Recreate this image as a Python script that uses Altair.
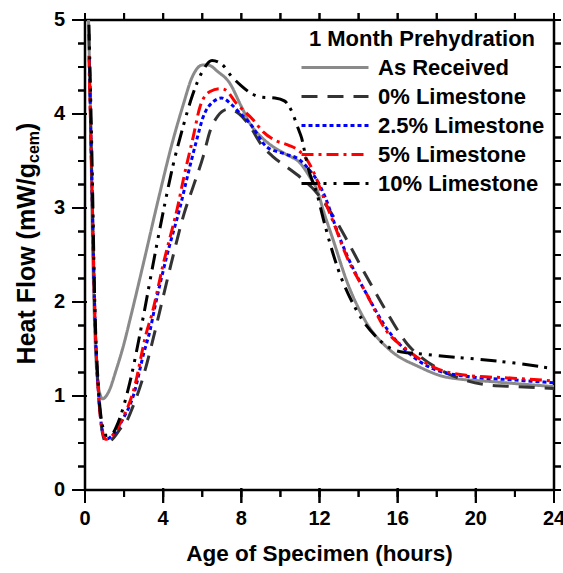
import altair as alt
import pandas as pd

FONT = "Liberation Sans"

series_names = ["As Received", "0% Limestone", "2.5% Limestone", "5% Limestone", "10% Limestone"]
series_colors = ["#8a8a8a", "#333333", "#0000ff", "#ff0000", "#000000"]
series_dashes = [[1, 0], [16, 10], [4, 3], [12, 5, 3, 5], [16, 6, 3, 7, 3, 7]]

as_received_x = [0.18, 0.28, 0.38, 0.5, 0.65, 0.9, 1.2, 1.6, 2.0, 2.3, 3.0, 3.75, 4.5, 5.0, 5.5, 6.0, 6.3,
                 6.8, 7.4, 8.0, 8.5, 9.0, 9.5, 10.3, 11.0, 11.5, 11.9, 12.2, 12.7, 13.4, 14.4, 15.6, 17.1,
                 18.5, 21.0, 24.0]
as_received_y = [5.0, 4.0, 2.7, 1.7, 1.15, 0.97, 1.04, 1.28, 1.56, 1.81, 2.42, 3.09, 3.72, 4.08, 4.4, 4.52,
                 4.52, 4.45, 4.33, 4.08, 3.88, 3.76, 3.67, 3.57, 3.48, 3.33, 3.18, 2.97, 2.66, 2.22, 1.78,
                 1.49, 1.31, 1.2, 1.15, 1.1]

ls0_x = [0.2, 0.35, 0.5, 0.7, 0.9, 1.1, 1.4, 1.8, 2.2, 2.4, 2.9, 3.5, 3.8, 4.4, 5.07, 5.54, 6.05, 6.4, 6.8,
         7.3, 7.9, 8.5, 9.0, 9.6, 10.3, 11.0, 11.6, 12.2, 12.8, 13.4, 14.2, 15.2, 16.0, 16.5, 17.1, 18.0,
         19.0, 20.5, 22.0, 24.0]
ls0_y = [4.85, 3.3, 1.9, 1.0, 0.6, 0.5, 0.54, 0.65, 0.76, 0.86, 1.15, 1.62, 1.88, 2.4, 2.94, 3.23, 3.55,
         3.82, 3.98, 4.05, 4.0, 3.85, 3.68, 3.55, 3.44, 3.33, 3.22, 3.07, 2.88, 2.66, 2.35, 1.98, 1.7, 1.55,
         1.43, 1.3, 1.2, 1.12, 1.1, 1.08]

ls25_x = [0.22, 0.35, 0.5, 0.7, 0.9, 1.05, 1.4, 1.9, 2.5, 3.0, 3.33, 3.58, 4.2, 4.89, 5.2, 5.71, 6.05, 6.56,
          6.99, 7.5, 7.93, 8.44, 9.3, 10.15, 11.0, 11.5, 11.86, 12.28, 13.0, 13.4, 14.5, 15.5, 16.5, 17.8,
          19.5, 22.0, 24.0]
ls25_y = [4.6, 3.3, 1.9, 1.0, 0.62, 0.54, 0.58, 0.74, 1.02, 1.45, 1.7, 1.95, 2.5, 3.03, 3.3, 3.72, 3.97,
          4.13, 4.17, 4.1, 4.01, 3.9, 3.65, 3.58, 3.51, 3.4, 3.3, 3.12, 2.7, 2.5, 2.05, 1.7, 1.47, 1.29,
          1.21, 1.17, 1.14]

ls5_x = [0.2, 0.35, 0.5, 0.7, 0.9, 1.05, 1.4, 1.9, 2.5, 3.15, 3.41, 4.0, 4.78, 5.03, 5.54, 5.89, 6.4, 6.9,
         7.16, 7.76, 8.6, 9.12, 9.72, 10.4, 11.0, 11.43, 11.77, 12.1, 12.8, 13.4, 14.4, 15.4, 16.5, 17.8,
         19.5, 21.9, 24.0]
ls5_y = [4.62, 3.3, 1.9, 1.0, 0.62, 0.54, 0.58, 0.75, 1.07, 1.68, 1.86, 2.4, 3.05, 3.3, 3.76, 4.08, 4.24,
         4.27, 4.26, 4.11, 3.94, 3.81, 3.72, 3.67, 3.6, 3.49, 3.35, 3.17, 2.8, 2.48, 2.09, 1.7, 1.49, 1.31,
         1.22, 1.19, 1.16]

ls10_x = [0.2, 0.35, 0.5, 0.7, 0.9, 1.1, 1.4, 1.7, 2.22, 2.98, 3.5, 4.09, 4.5, 5.0, 5.5, 6.0, 6.5, 7.0,
          7.5, 8.0, 8.5, 9.0, 9.72, 10.2, 10.6, 10.9, 11.09, 11.24, 11.4, 11.86, 12.2, 12.9, 13.9, 14.9,
          15.8, 16.5, 17.1, 18.5, 20.2, 22.0, 24.0]
ls10_y = [4.95, 3.6, 2.0, 1.05, 0.68, 0.58, 0.6, 0.72, 1.08, 1.84, 2.42, 3.05, 3.45, 3.85, 4.2, 4.45,
          4.57, 4.53, 4.4, 4.3, 4.22, 4.18, 4.17, 4.14, 4.02, 3.85, 3.74, 3.6, 3.44, 3.16, 2.88, 2.38,
          1.91, 1.63, 1.49, 1.46, 1.45, 1.42, 1.39, 1.35, 1.29]

x_major = list(range(0, 25, 4))
x_minor = list(range(0, 25, 2))
y_major = list(range(0, 6))
y_minor = [i * 0.25 for i in range(21)]
x_labels = [str(v) for v in x_major]
y_labels = [str(v) for v in y_major]

all_x = [as_received_x, ls0_x, ls25_x, ls5_x, ls10_x]
all_y = [as_received_y, ls0_y, ls25_y, ls5_y, ls10_y]
rows = []
for name, xs, ys in zip(series_names, all_x, all_y):
    for xv, yv in zip(xs, ys):
        rows.append({"series": name, "hours": xv, "heat": yv})
df = pd.DataFrame(rows)

W, H = 469, 470
xscale = alt.Scale(domain=[0, 24], nice=False, zero=False)
yscale = alt.Scale(domain=[0, 5], nice=False, zero=False)

legend = alt.Legend(
    title="1 Month Prehydration", orient="none", legendX=215, legendY=9,
    symbolType="stroke", symbolSize=4489, clipHeight=29, rowPadding=0,
    labelOffset=8, symbolStrokeWidth=3, padding=0, titlePadding=2,
    titleFont=FONT, titleFontSize=22, titleFontWeight="bold", titleColor="black",
    titleAnchor="middle", titleLimit=400,
    labelFont=FONT, labelFontSize=22, labelFontWeight="bold", labelColor="black",
    labelLimit=400,
)

base = alt.Chart(df)
lines = base.mark_line(interpolate="monotone", clip=True, strokeWidth=3, strokeCap="butt").encode(
    x=alt.X("hours:Q", scale=xscale, axis=None),
    y=alt.Y("heat:Q", scale=yscale, axis=None),
    color=alt.Color("series:N", scale=alt.Scale(domain=series_names, range=series_colors), legend=legend),
    strokeDash=alt.StrokeDash("series:N", scale=alt.Scale(domain=series_names, range=series_dashes),
                              legend=legend),
)

tick_layers = []
tick_id = [0]


def xticks(values, y0, y1):
    tick_id[0] += 1
    col = "tx%d" % tick_id[0]
    d = pd.DataFrame({col: values})
    rule = alt.Chart(d).mark_rule(color="black", strokeWidth=2).encode(
        x=alt.X(col + ":Q", scale=xscale, axis=None), y=alt.value(y0), y2=alt.value(y1))
    tick = alt.Chart(d).mark_tick(color="black", orient="vertical", thickness=2,
                                  size=abs(y1 - y0), opacity=1).encode(
        x=alt.X(col + ":Q", scale=xscale, axis=None), y=alt.value((y0 + y1) / 2))
    return [rule, tick]


def yticks(values, x0, x1):
    tick_id[0] += 1
    col = "ty%d" % tick_id[0]
    d = pd.DataFrame({col: values})
    rule = alt.Chart(d).mark_rule(color="black", strokeWidth=2).encode(
        y=alt.Y(col + ":Q", scale=yscale, axis=None), x=alt.value(x0), x2=alt.value(x1))
    tick = alt.Chart(d).mark_tick(color="black", orient="horizontal", thickness=2,
                                  size=abs(x1 - x0), opacity=1).encode(
        y=alt.Y(col + ":Q", scale=yscale, axis=None), x=alt.value((x0 + x1) / 2))
    return [rule, tick]


for layer_pair in [
    xticks(x_minor, H, H + 7), xticks(x_major, H - 2, H + 13), xticks(x_minor, -7, 0),
    yticks(y_minor, -7, 0), yticks(y_major, -13, 2), yticks(y_minor, W, W + 7),
]:
    tick_layers.extend(layer_pair)

x_tick_labels = alt.Chart(pd.DataFrame({"xl": x_major, "lab": x_labels})).mark_text(
    align="center", baseline="top", font=FONT, fontSize=20, fontWeight="bold", color="black",
).encode(x=alt.X("xl:Q", scale=xscale, axis=None), y=alt.value(H + 19), text="lab:N")

y_tick_labels = alt.Chart(pd.DataFrame({"yl": y_major, "lab": y_labels})).mark_text(
    align="right", baseline="middle", font=FONT, fontSize=20, fontWeight="bold", color="black",
).encode(y=alt.Y("yl:Q", scale=yscale, axis=None), x=alt.value(-20), text="lab:N")

x_title = alt.Chart(pd.DataFrame({"t": ["Age of Specimen (hours)"]})).mark_text(
    align="center", baseline="alphabetic", font=FONT, fontSize=22.5, fontWeight="bold", color="black",
).encode(text="t:N", x=alt.value(W / 2), y=alt.value(H + 71))

yb = 163 - 20
title_main = alt.Chart(pd.DataFrame({"t": ["Heat Flow (mW/g"]})).mark_text(
    angle=270, align="right", baseline="alphabetic", font=FONT, fontSize=25, fontWeight="bold",
    color="black",
).encode(text="t:N", x=alt.value(-50), y=alt.value(yb))
title_sub = alt.Chart(pd.DataFrame({"t": ["cem"]})).mark_text(
    angle=270, align="left", baseline="alphabetic", font=FONT, fontSize=16, fontWeight="bold",
    color="black",
).encode(text="t:N", x=alt.value(-46), y=alt.value(yb))
title_end = alt.Chart(pd.DataFrame({"t": [")"]})).mark_text(
    angle=270, align="left", baseline="alphabetic", font=FONT, fontSize=25, fontWeight="bold",
    color="black",
).encode(text="t:N", x=alt.value(-50), y=alt.value(yb - 32))

chart = alt.layer(
    lines, x_tick_labels, y_tick_labels, x_title, title_main, title_sub, title_end, *tick_layers
).properties(
    width=W, height=H,
    padding={"left": 85, "top": 20, "right": 9, "bottom": 83},
    autosize=alt.AutoSizeParams(type="none"),
).configure_view(stroke="black", strokeWidth=2.5)

chart.save("out.html", embed_options={"renderer": "svg", "actions": False})
